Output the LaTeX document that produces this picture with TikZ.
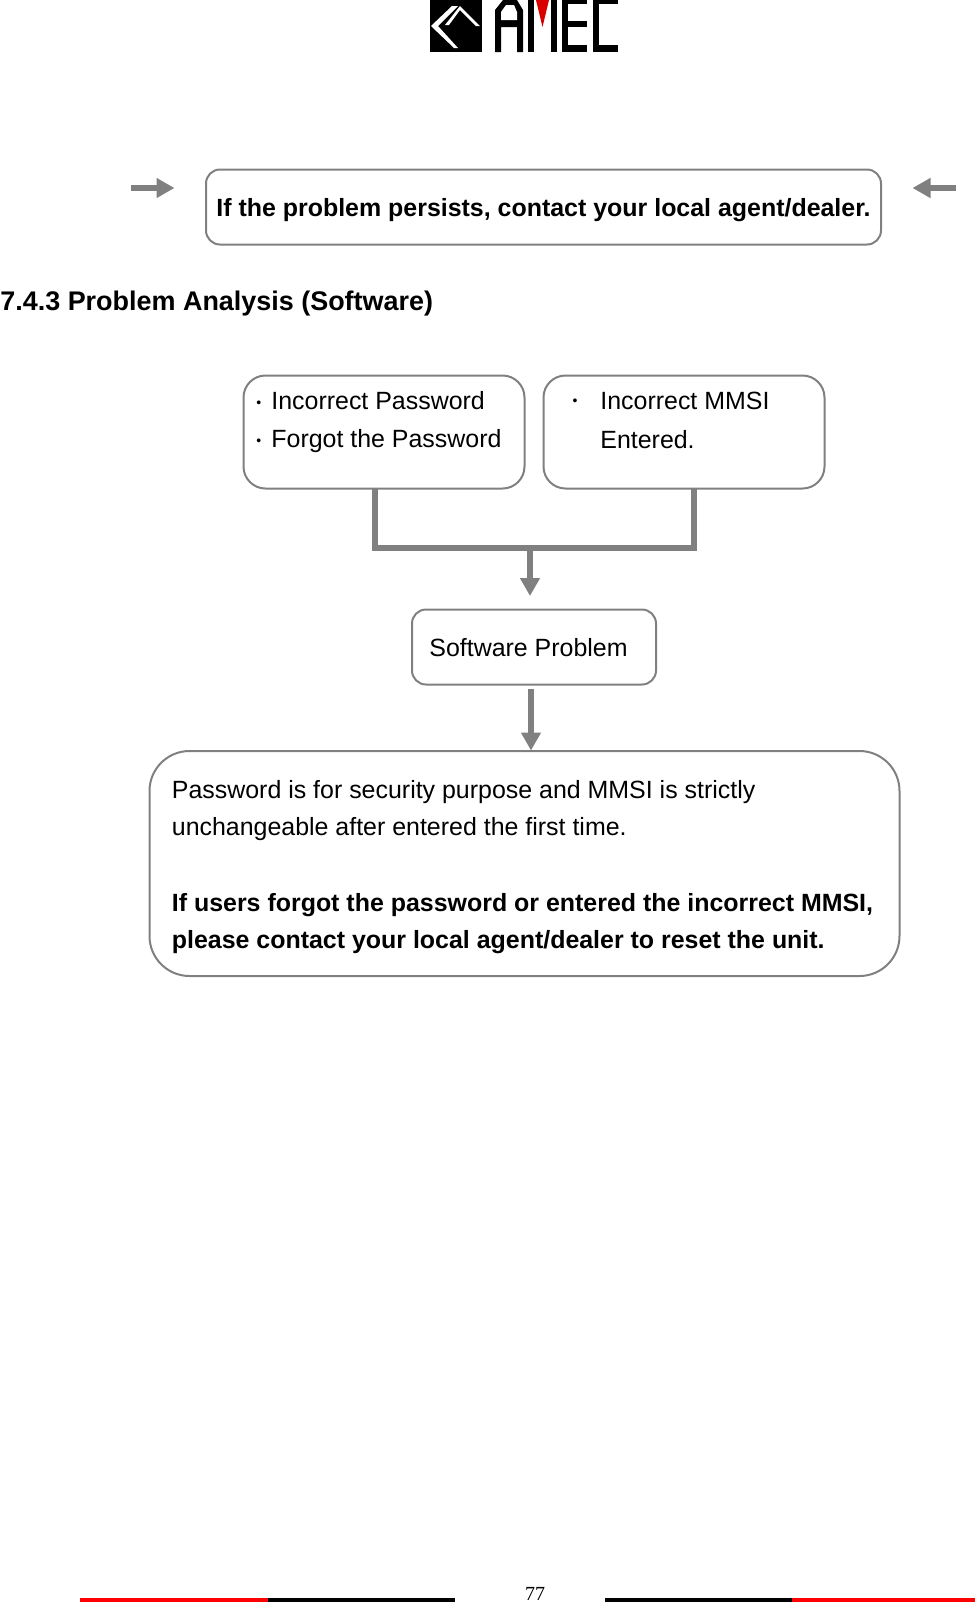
\documentclass[tikz,border=0pt]{standalone}
\usepackage{fontspec}
\setmainfont{Liberation Sans}
\newfontfamily\pagefont{Liberation Serif}
\usetikzlibrary{arrows.meta}
\definecolor{boxgray}{gray}{0.5}
\newcommand{\smalldot}{{\fontsize{7}{7}\selectfont\raisebox{1.1pt}{\textbullet}}}
\tikzset{
	box/.style={draw=boxgray,line width=1pt,align=left,inner sep=0pt,anchor=north west},
	boxtext/.style={anchor=north west,inner sep=0pt,align=left,font=\fontsize{12.47}{19}\selectfont},
	flow/.style={draw=boxgray,line width=3pt,-{Triangle[length=9pt,width=9.5pt,fill=boxgray]}},
}
\begin{document}
\begin{tikzpicture}[x=0.5pt,y=-0.5pt]
	\useasboundingbox (0,0) rectangle (975,1603);
	\fill (430,0) rectangle (482,52);
	\fill[white] (452,6) -- (431,26) -- (454,48) -- (458,48) -- (438,26) -- (458,6) -- cycle;
	\fill[white] (445,25) -- (460,6) -- (480,26) -- (476,26) -- (460,10) -- (449,25) -- cycle;
	\fill (495,52) -- (495,10) -- (503,0) -- (517,0) -- (523,10) -- (523,52) -- (517,52) -- (517,27) -- (501,27) -- (501,52) -- cycle;
	\fill[white] (501,20) -- (501,12) -- (506,5) -- (514,5) -- (517,12) -- (517,20) -- cycle;
	\fill (528,0) rectangle (534,52);
	\fill (551,0) rectangle (557,52);
	\fill[red!85!black] (536,0) -- (549,0) -- (542.5,27) -- cycle;
	\fill (562,0) rectangle (568,52);
	\fill (562,0) rectangle (587,4);
	\fill (562,21) rectangle (587,27);
	\fill (562,45) rectangle (587,52);
	\fill (593,0) rectangle (599,52);
	\fill (593,0) rectangle (618,4);
	\fill (593,45) rectangle (618,52);

	\node[box,minimum width=337.5pt,minimum height=37.5pt,rounded corners=7pt] (persist) at (205,168.5) {};
	\node[boxtext,anchor=base west,font=\fontsize{12.47}{19}\bfseries\selectfont] (persisttext) at (216,216) {If the problem persists, contact your local agent/dealer.};
	\coordinate (leftstart) at (131,188);
	\coordinate (lefttip) at (174.5,188);
	\coordinate (rightstart) at (956,188);
	\coordinate (righttip) at (912.5,188);
	\draw[flow] (leftstart) -- (lefttip);
	\draw[flow] (rightstart) -- (righttip);

	\node[anchor=base west,inner sep=0pt,font=\fontsize{13.47}{16}\bfseries\selectfont] (heading) at (0,310) {7.4.3 Problem Analysis (Software)};

	\node[box,minimum width=140.5pt,minimum height=56.5pt,rounded corners=11pt] (causea) at (242.5,374.5) {};
	\node[boxtext] (causeatext) at (256,391) {\makebox[7.5pt][l]{\smalldot}Incorrect Password\\\makebox[7.5pt][l]{\smalldot}Forgot the Password};
	\node[box,minimum width=140.5pt,minimum height=56.5pt,rounded corners=11pt] (causeb) at (542.5,374.5) {};
	\node[boxtext,font=\fontsize{12.47}{19.3}\selectfont] (causebtext) at (600,392) {Incorrect MMSI\\Entered.};
	\node[anchor=base,inner sep=0pt] (causebdot) at (575,408) {\smalldot};

	\node[box,minimum width=122pt,minimum height=37.5pt,rounded corners=7pt] (software) at (411,608.5) {};
	\node[anchor=base west,inner sep=0pt,font=\fontsize{12.47}{19}\selectfont] (softwaretext) at (429,656) {Software Problem};

	\node[box,minimum width=375pt,minimum height=112.5pt,rounded corners=20pt] (advice) at (148.5,750) {};
	\node[boxtext,font=\fontsize{12.47}{18.75}\selectfont] (advicetext) at (171.5,780) {Password is for security purpose and MMSI is strictly\\unchangeable after entered the first time.\\[19pt]\textbf{If users forgot the password or entered the incorrect MMSI,}\\\textbf{please contact your local agent/dealer to reset the unit.}};

	\coordinate (bracketa) at (375,488);
	\coordinate (bracketb) at (693.5,488);
	\coordinate (bracketmid) at (530,548);
	\coordinate (softwaretop) at (530,596);
	\coordinate (softwarebottom) at (531,689);
	\coordinate (advicetop) at (531,750.5);
	\draw[boxgray,line width=3pt] (bracketa) |- (bracketmid) -| (bracketb);
	\draw[flow] (bracketmid) -- (softwaretop);
	\draw[flow] (softwarebottom) -- (advicetop);

	\node[anchor=base,inner sep=0pt,font=\pagefont\fontsize{10}{12}\selectfont] (pagenum) at (535,1600) {77};
	\fill[red] (80,1598) rectangle (267.5,1602);
	\fill (267.5,1598) rectangle (454.5,1602);
	\fill (604.5,1598) rectangle (792,1602);
	\fill[red] (792,1598) rectangle (975,1602);
\end{tikzpicture}
\end{document}
